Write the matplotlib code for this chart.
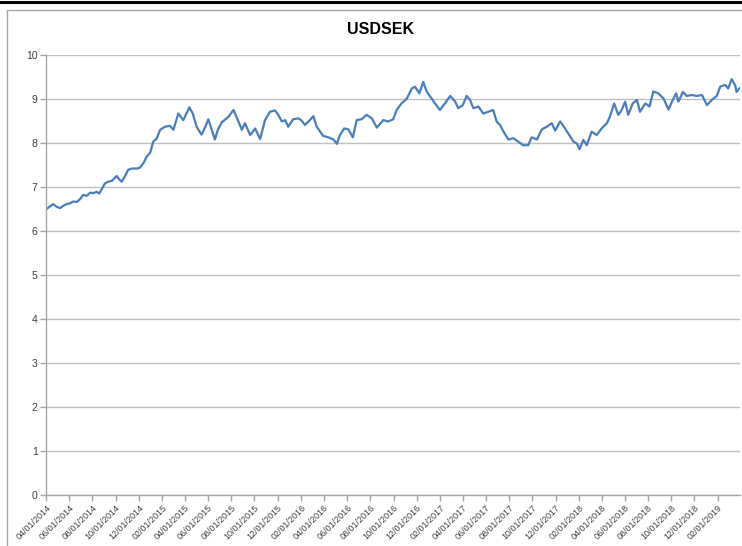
import matplotlib
matplotlib.use("Agg")
import matplotlib.pyplot as plt
import matplotlib.dates as mdates
import pandas as pd
from matplotlib.patches import Rectangle
from matplotlib.lines import Line2D

plt.rcParams['font.family'] = ['Liberation Sans Narrow', 'Liberation Sans', 'DejaVu Sans']

title = "USDSEK"

dates = [
    "2014-04-01", "2014-04-10", "2014-04-20", "2014-04-29", "2014-05-08", "2014-05-16", "2014-05-25",
    "2014-06-03", "2014-06-12", "2014-06-21", "2014-06-29", "2014-07-08", "2014-07-17", "2014-07-26",
    "2014-08-03", "2014-08-12", "2014-08-19", "2014-08-26", "2014-09-03", "2014-09-11", "2014-09-21",
    "2014-10-04", "2014-10-10", "2014-10-17", "2014-10-26", "2014-11-03", "2014-11-13", "2014-11-26",
    "2014-12-04", "2014-12-13", "2014-12-22", "2014-12-31", "2015-01-08", "2015-01-17", "2015-01-26",
    "2015-02-08", "2015-02-21", "2015-03-02", "2015-03-15", "2015-03-28", "2015-04-13", "2015-04-22",
    "2015-05-02", "2015-05-15", "2015-05-24", "2015-06-02", "2015-06-09", "2015-06-19", "2015-06-27",
    "2015-07-07", "2015-07-20", "2015-07-25", "2015-08-07", "2015-08-20", "2015-08-29", "2015-09-06",
    "2015-09-20", "2015-10-03", "2015-10-16", "2015-10-29", "2015-11-11", "2015-11-24", "2015-12-03",
    "2015-12-12", "2015-12-21", "2015-12-29", "2016-01-11", "2016-01-25", "2016-02-02", "2016-02-11",
    "2016-02-24", "2016-03-04", "2016-03-13", "2016-03-22", "2016-03-30", "2016-04-12", "2016-04-26",
    "2016-05-05", "2016-05-13", "2016-05-24", "2016-06-04", "2016-06-16", "2016-06-26", "2016-07-09",
    "2016-07-22", "2016-08-05", "2016-08-18", "2016-09-04", "2016-09-17", "2016-09-30", "2016-10-09",
    "2016-10-22", "2016-11-05", "2016-11-18", "2016-11-26", "2016-12-08", "2016-12-18", "2016-12-27",
    "2017-01-09", "2017-01-18", "2017-01-31", "2017-02-13", "2017-02-27", "2017-03-12", "2017-03-20",
    "2017-04-01", "2017-04-11", "2017-04-20", "2017-04-29", "2017-05-12", "2017-05-25", "2017-06-07",
    "2017-06-20", "2017-06-29", "2017-07-08", "2017-07-17", "2017-07-30", "2017-08-12", "2017-08-25",
    "2017-09-07", "2017-09-20", "2017-09-29", "2017-10-13", "2017-10-26", "2017-11-08", "2017-11-21",
    "2017-11-30", "2017-12-13", "2017-12-26", "2018-01-06", "2018-01-17", "2018-01-26", "2018-02-02",
    "2018-02-12", "2018-02-21", "2018-03-06", "2018-03-19", "2018-04-01", "2018-04-15", "2018-04-23",
    "2018-05-04", "2018-05-15", "2018-05-24", "2018-06-02", "2018-06-10", "2018-06-22", "2018-07-03",
    "2018-07-11", "2018-07-25", "2018-08-05", "2018-08-15", "2018-08-28", "2018-09-11", "2018-09-24",
    "2018-10-03", "2018-10-14", "2018-10-20", "2018-11-01", "2018-11-11", "2018-11-24", "2018-12-07",
    "2018-12-21", "2019-01-03", "2019-01-16", "2019-01-29", "2019-02-07", "2019-02-20", "2019-02-28",
    "2019-03-09", "2019-03-18", "2019-03-22", "2019-03-29",
]

usdsek = [
    6.49, 6.55, 6.61, 6.55, 6.52, 6.57, 6.61,
    6.63, 6.67, 6.66, 6.72, 6.82, 6.80, 6.87,
    6.86, 6.89, 6.85, 6.96, 7.08, 7.12, 7.14,
    7.25, 7.18, 7.12, 7.25, 7.39, 7.42, 7.42,
    7.44, 7.54, 7.69, 7.78, 8.03, 8.10, 8.30,
    8.37, 8.39, 8.30, 8.67, 8.52, 8.81, 8.67,
    8.37, 8.19, 8.35, 8.54, 8.35, 8.08, 8.30,
    8.47, 8.56, 8.60, 8.75, 8.49, 8.30, 8.45,
    8.18, 8.33, 8.09, 8.52, 8.71, 8.74, 8.64,
    8.49, 8.52, 8.37, 8.54, 8.56, 8.51, 8.41,
    8.52, 8.61, 8.37, 8.26, 8.16, 8.13, 8.08,
    7.98, 8.18, 8.33, 8.31, 8.13, 8.52, 8.54,
    8.64, 8.56, 8.35, 8.52, 8.49, 8.54, 8.75,
    8.90, 9.01, 9.24, 9.28, 9.13, 9.39, 9.17,
    9.01, 8.90, 8.75, 8.90, 9.07, 8.94, 8.79,
    8.86, 9.07, 8.98, 8.79, 8.83, 8.67, 8.71,
    8.75, 8.49, 8.41, 8.26, 8.08, 8.11, 8.03,
    7.95, 7.95, 8.13, 8.08, 8.31, 8.37, 8.45,
    8.28, 8.49, 8.33, 8.18, 8.03, 7.99, 7.86,
    8.07, 7.95, 8.26, 8.18, 8.33, 8.45, 8.60,
    8.90, 8.64, 8.75, 8.94, 8.64, 8.90, 8.98,
    8.71, 8.90, 8.83, 9.17, 9.13, 9.01, 8.76,
    8.94, 9.13, 8.94, 9.16, 9.07, 9.09, 9.07,
    9.09, 8.86, 8.98, 9.07, 9.28, 9.32, 9.24,
    9.45, 9.32, 9.16, 9.24,
]

x_start = "2014-04-01"
x_end = "2019-03-31"
y_ticks = [0, 1, 2, 3, 4, 5, 6, 7, 8, 9, 10]

W, H = 742, 546
fig = plt.figure(figsize=(W / 100, H / 100), dpi=100)
fig.patch.set_facecolor("white")

# outer chart frame (screenshot style)
fig.add_artist(Rectangle((7 / W, -0.02), 1.0, 1 - 10 / H + 0.02, transform=fig.transFigure,
                         fill=False, edgecolor="#A6A6A6", linewidth=1.0))
fig.add_artist(Line2D([0, 1], [1 - 1.5 / H, 1 - 1.5 / H], transform=fig.transFigure,
                      color="black", linewidth=2.2))

ax = fig.add_axes([46 / W, (H - 495) / H, (740 - 46) / W, 440 / H])
x = pd.to_datetime(dates)
ax.plot(x, usdsek, color="#4A7EBB", linewidth=1.6, solid_joinstyle="round")

ax.set_ylim(0, 10)
ax.set_yticks(y_ticks)
ax.set_xlim(pd.Timestamp(x_start), pd.Timestamp(x_end))
ax.xaxis.set_major_locator(mdates.MonthLocator(bymonth=[2, 4, 6, 8, 10, 12], bymonthday=1))
ax.xaxis.set_major_formatter(mdates.DateFormatter("%m/%d/%Y"))

ax.grid(axis="y", color="#BFBFBF", linewidth=1.0)
ax.set_axisbelow(True)
for s in ["top", "right"]:
    ax.spines[s].set_visible(False)
for s in ["left", "bottom"]:
    ax.spines[s].set_color("#A6A6A6")
    ax.spines[s].set_linewidth(1.0)

ax.tick_params(axis="both", colors="#A6A6A6", labelcolor="#404040", length=4, width=1.0)
ax.tick_params(axis="y", pad=2, labelsize=7.5)
ax.tick_params(axis="x", pad=2, labelsize=6.5)
for lab in ax.get_xticklabels():
    lab.set_rotation(45)
    lab.set_ha("right")
    lab.set_rotation_mode("anchor")

fig.text(381 / W, (H - 30) / H, title, ha="center", va="center", fontsize=11.5,
         fontweight="bold", color="black")

fig.savefig("out.png", dpi=100, facecolor="white")
